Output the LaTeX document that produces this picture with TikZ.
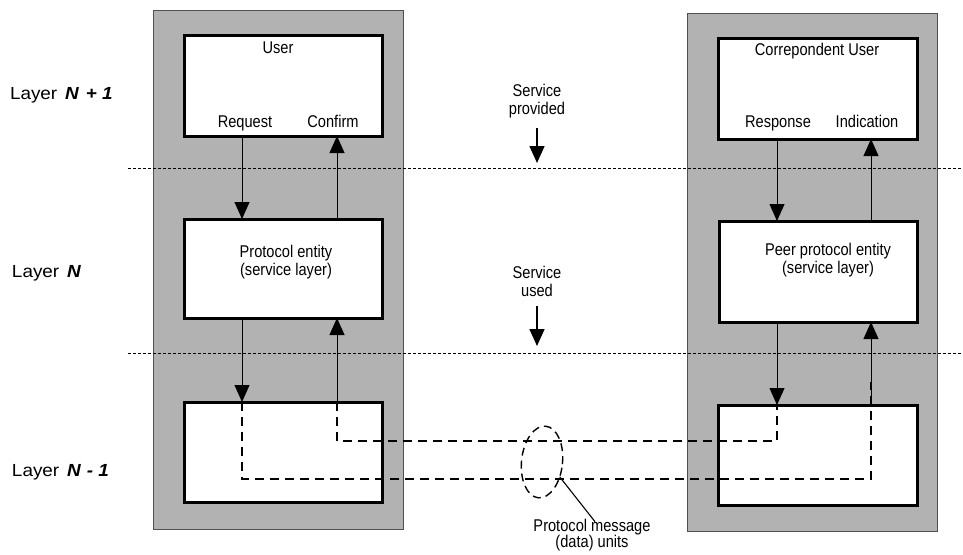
\documentclass[tikz,border=0pt]{standalone}
\usepackage{fontspec}
\setmainfont{Liberation Sans}[FakeStretch=0.86]
\newfontfamily\layerfont{Liberation Sans}[FakeStretch=1.08]
\usetikzlibrary{arrows.meta,shapes.geometric}
\definecolor{panelgray}{RGB}{178,178,178}
\definecolor{paneledge}{RGB}{80,80,80}

\begin{document}
\begin{tikzpicture}[x=1pt,y=-1pt,
  every node/.style={font=\fontsize{17}{17.5}\selectfont, inner sep=0pt, outer sep=0pt},
  panel/.style={draw=paneledge, line width=1pt, fill=panelgray, anchor=north west},
  entity/.style={draw=black, line width=3pt, fill=white, anchor=north west},
  lbl/.style={anchor=base, align=center},
  layerlbl/.style={anchor=base west, font=\layerfont\fontsize{17.5}{18}\selectfont},
  flow/.style={draw=black, line width=0.9pt, -{Triangle[length=17pt,width=15pt]}},
  svc/.style={draw=black, line width=1.6pt, -{Triangle[length=17pt,width=15pt]}},
  pdu/.style={line width=2pt, dash pattern=on 9pt off 6pt},
  sep/.style={line width=0.8pt, dash pattern=on 3pt off 2pt},
]
\useasboundingbox[fill=white] (0,0) rectangle (963,554);

% system panels
\node[panel, minimum width=250pt, minimum height=519pt] (lpanel) at (153,10) {};
\node[panel, minimum width=250pt, minimum height=518pt] (rpanel) at (687,13) {};

% layer boundaries
\coordinate (s1a) at (128,168);
\coordinate (s1b) at (963,168);
\coordinate (s2a) at (128,353);
\coordinate (s2b) at (963,353);
\draw[sep] (s1a) -- (s1b);
\draw[sep] (s2a) -- (s2b);

% entities
\node[entity, minimum width=198pt, minimum height=101pt] (user) at (184,35) {};
\node[entity, minimum width=198pt, minimum height=99pt] (pe) at (184,219) {};
\node[entity, minimum width=198pt, minimum height=100pt] (bl) at (184,402) {};
\node[entity, minimum width=199pt, minimum height=101pt] (cu) at (718,38) {};
\node[entity, minimum width=198pt, minimum height=101pt] (peer) at (719,221) {};
\node[entity, minimum width=199pt, minimum height=100pt] (br) at (718,405) {};

% texts inside entities
\node[lbl] (tuser) at (278,53) {User};
\node[lbl] (treq) at (245,127) {Request};
\node[lbl] (tconf) at (333,127) {Confirm};
\node[lbl] (tcu) at (817,55) {Correpondent User};
\node[lbl] (tresp) at (778,127) {Response};
\node[lbl] (tind) at (867,127) {Indication};
\node[lbl] (tpe) at (286,275) {Protocol entity\\(service layer)};
\node[lbl] (tpeer) at (828,273) {Peer protocol entity\\(service layer)};

% layer names
\node[layerlbl] (ln1) at (10,99) {Layer\hspace{0.45em}\textbf{\itshape N\hspace{0.4em}+\hspace{0.3em}1}};
\node[layerlbl] (ln) at (12,277) {Layer\hspace{0.45em}\textbf{\itshape N}};
\node[layerlbl] (ln0) at (12,476) {Layer\hspace{0.45em}\textbf{\itshape N\hspace{0.35em}-\hspace{0.3em}1}};

% vertical positions of the primitive lines
\coordinate (xa) at (242,0);
\coordinate (xb) at (337,0);
\coordinate (xc) at (777,0);
\coordinate (xd) at (871,0);

% primitives between the layers
\draw[flow] (user.south -| xa) -- (pe.north -| xa);
\draw[flow] (pe.north -| xb) -- (user.south -| xb);
\draw[flow] (cu.south -| xc) -- (peer.north -| xc);
\draw[flow] (peer.north -| xd) -- (cu.south -| xd);
\draw[flow] (pe.south -| xa) -- (bl.north -| xa);
\draw[flow] (bl.north -| xb) -- (pe.south -| xb);
\draw[flow] (peer.south -| xc) -- (br.north -| xc);
\draw[flow] (br.north -| xd) -- (peer.south -| xd);

% protocol data units exchanged
\coordinate (d1) at (242,479);
\coordinate (d2) at (871,479);
\coordinate (d3) at (871,382);
\coordinate (e1) at (337,441);
\coordinate (e2) at (777,441);
\draw[pdu] (bl.north -| xa) -- (d1) -- (d2) -- (d3);
\draw[pdu] (bl.north -| xb) -- (e1) -- (e2) -- (br.north -| xc);

% grouping of the message units
\node[draw, ellipse, line width=1.4pt, dash pattern=on 8pt off 5pt,
      minimum width=41pt, minimum height=72pt, rotate=-6] (grp) at (542,462) {};
\node[lbl, font=\fontsize{17}{16}\selectfont] (tpdu) at (592,547) {Protocol message\\(data) units};
\draw[line width=1.1pt] (grp.-34) -- ([xshift=3pt,yshift=-3pt]tpdu.north);

% services
\node[lbl] (tprov) at (537,114) {Service\\provided};
\coordinate (p1) at (537,128);
\coordinate (p2) at (537,163);
\draw[svc] (p1) -- (p2);
\node[lbl] (tused) at (537,296) {Service\\used};
\coordinate (u1) at (537,306);
\coordinate (u2) at (537,346);
\draw[svc] (u1) -- (u2);
\end{tikzpicture}
\end{document}
